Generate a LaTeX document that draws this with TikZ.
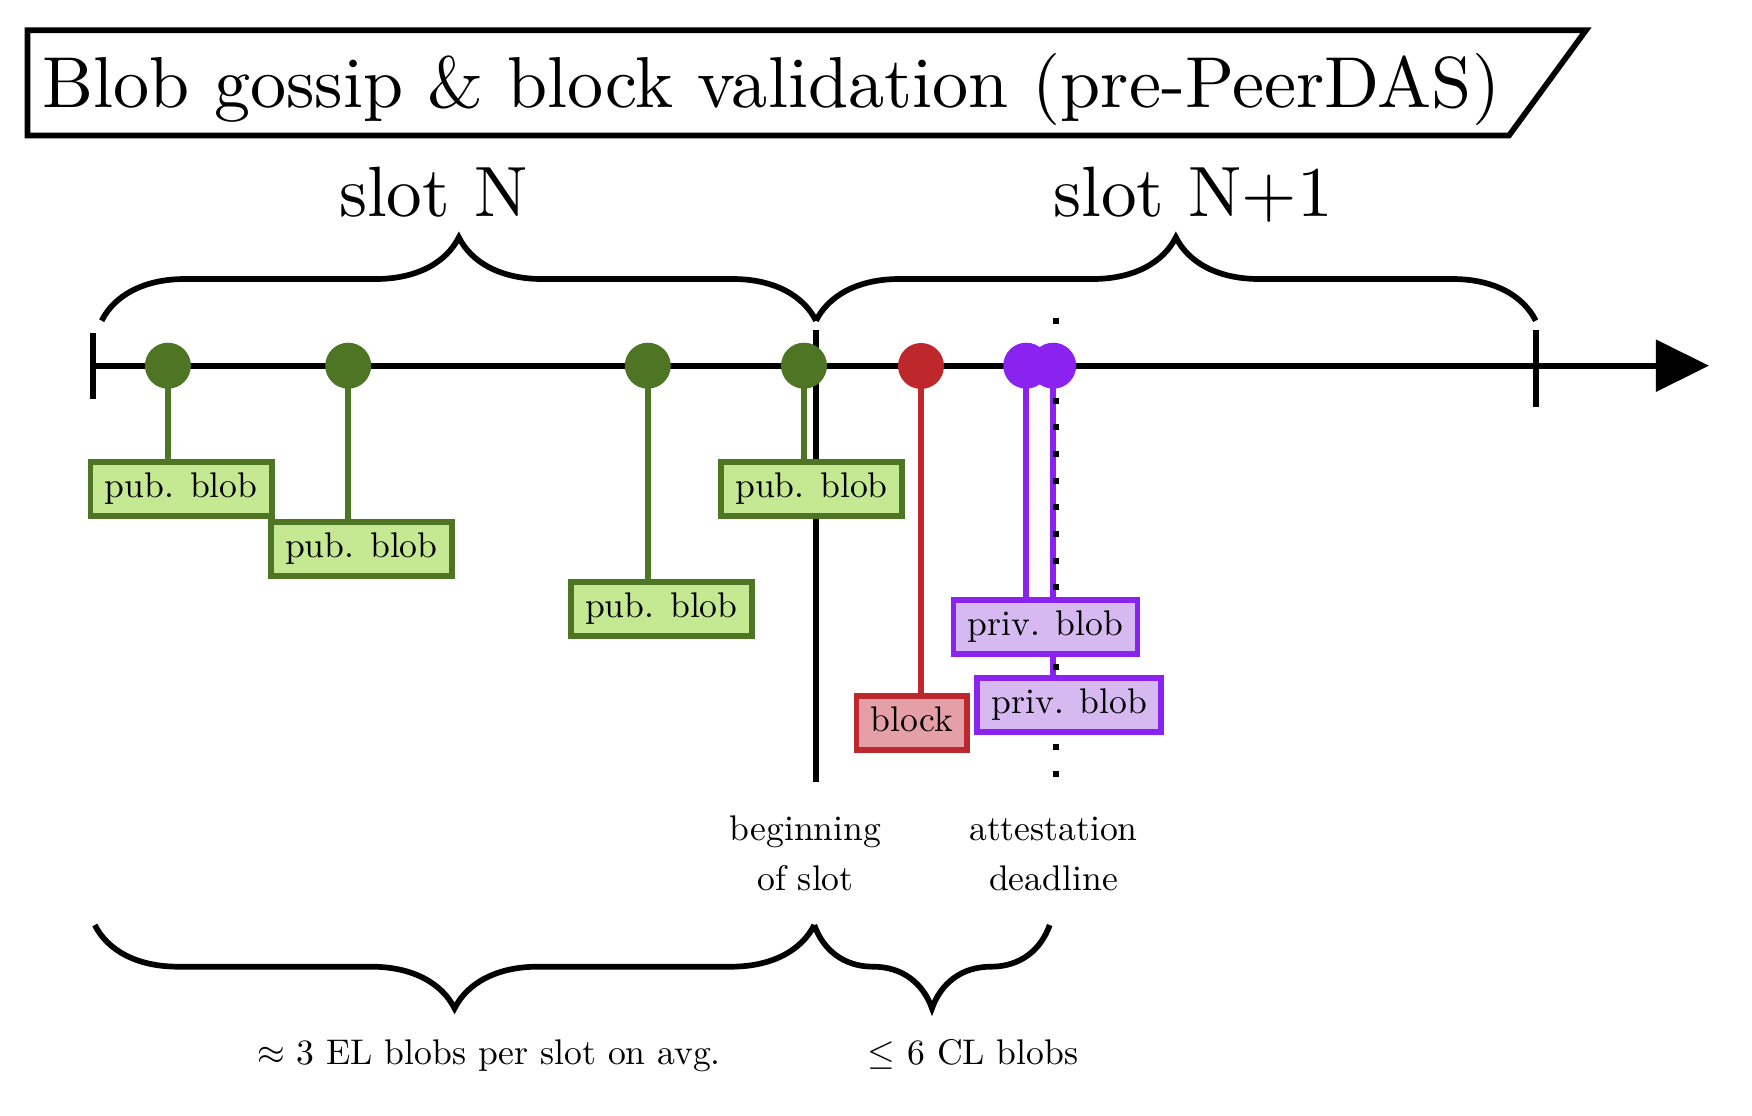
\documentclass[tikz,border=0pt]{standalone}
\usetikzlibrary{arrows.meta,decorations.pathreplacing,backgrounds}
\definecolor{gdark}{HTML}{4E7524}
\definecolor{glight}{HTML}{C5E892}
\definecolor{rdark}{HTML}{BE282D}
\definecolor{rlight}{HTML}{E4A0A6}
\definecolor{pdark}{HTML}{8A22F0}
\definecolor{plight}{HTML}{D6B9F1}
\tikzset{
  ln/.style={line width=1.6pt},
  dotnode/.style={circle, inner sep=0pt, minimum size=12.9pt},
  gdot/.style={dotnode, fill=gdark},
  rdot/.style={dotnode, fill=rdark},
  pdot/.style={dotnode, fill=pdark},
  evbox/.style={draw, line width=1.6pt, inner xsep=4pt, inner ysep=3.1pt,
    text height=6.94pt, text depth=1.94pt, font=\fontsize{10}{12}\selectfont},
  gbox/.style={evbox, draw=gdark, fill=glight},
  rbox/.style={evbox, draw=rdark, fill=rlight},
  pbox/.style={evbox, draw=pdark, fill=plight},
  gstem/.style={ln, draw=gdark},
  rstem/.style={ln, draw=rdark},
  pstem/.style={ln, draw=pdark},
  brc/.style={ln, decorate, decoration={brace, amplitude=23.4pt}},
  bigtxt/.style={font=\fontsize{10}{12}\selectfont, inner sep=0pt},
  smalltxt/.style={font=\fontsize{10}{14}\selectfont, inner sep=0pt, align=center}
}
\begin{document}
\begin{tikzpicture}[x=0.28066pt, y=-0.28066pt]
\useasboundingbox (0,0) rectangle (1752,1116);

% title
\draw[ln, line join=miter] (27.4,30.2) -- (1586,30.2) -- (1509,135.5) -- (27.4,135.5) -- cycle;
\node[bigtxt, anchor=base west] (title) at (42,107.3) {\scalebox{2.025}{Blob gossip \& block validation (pre-PeerDAS)}};

% slot labels
\node[bigtxt, anchor=base] (slotN) at (433.3,216) {\scalebox{2}{slot N}};
\node[bigtxt, anchor=base] (slotN1) at (1193,216) {\scalebox{2}{slot N+1}};

% top braces
\coordinate (tbA) at (101.7,320.7);
\coordinate (tbB) at (816,320.7);
\coordinate (tbC) at (1535.7,320.7);
\draw[brc] (tbA) -- (tbB);
\draw[brc] (tbB) -- (tbC);

% axis
\coordinate (axL) at (92.7,365.7);
\coordinate (axR) at (1709,365.7);
\draw[ln, -{Triangle[length=14.9pt,width=14.3pt]}] (axL) -- (axR);
\coordinate (tL1) at (92.7,333); \coordinate (tL2) at (92.7,399);
\coordinate (tR1) at (1535.7,330); \coordinate (tR2) at (1535.7,407);
\draw[ln] (tL1) -- (tL2);
\draw[ln] (tR1) -- (tR2);

% beginning of slot line and attestation deadline dotted line
\coordinate (bs1) at (816.2,330); \coordinate (bs2) at (816.2,782);
\draw[ln] (bs1) -- (bs2);
\coordinate (ad1) at (1056,317.7); \coordinate (ad2) at (1056,780);
\draw[ln, dash pattern=on 1.68pt off 5.8pt] (ad1) -- (ad2);

% dots
\node[gdot] (g1) at (167.9,365.7) {};
\node[gdot] (g2) at (348.2,365.7) {};
\node[gdot] (g3) at (647.8,365.7) {};
\node[gdot] (g4) at (804,365.7) {};
\node[rdot] (r1) at (921,366) {};
\node[pdot] (p1) at (1026.2,365.7) {};
\node[pdot] (p2) at (1053.2,365.7) {};

% boxes
\node[gbox] (b1) at (181.15,489) {pub. blob};
\node[gbox] (b2) at (361.35,549) {pub. blob};
\node[gbox] (b3) at (661.3,609) {pub. blob};
\node[gbox] (b4) at (811.45,489) {pub. blob};
\node[rbox] (blk) at (911.85,723) {block};
\node[pbox] (pv1) at (1045.45,626.85) {priv. blob};
\node[pbox] (pv2) at (1069.3,705) {priv. blob};

% stems
\begin{scope}[on background layer]
\draw[gstem] (g1.center) -- (g1.center |- b1.north);
\draw[gstem] (g2.center) -- (g2.center |- b2.north);
\draw[gstem] (g3.center) -- (g3.center |- b3.north);
\draw[gstem] (g4.center) -- (g4.center |- b4.north);
\draw[rstem] (r1.center) -- (r1.center |- blk.north);
\draw[pstem] (p1.center) -- (p1.center |- pv1.north);
\draw[pstem] (p2.center) -- (p2.center |- pv2.north);
\end{scope}

% bottom labels
\node[smalltxt, anchor=base] (lbos) at (805.5,890) {beginning\\of slot};
\node[smalltxt, anchor=base] (lad) at (1053.5,890) {attestation\\deadline};

% bottom braces
\coordinate (bbA) at (94.8,925);
\coordinate (bbB) at (814.3,925);
\coordinate (bbC) at (1049.7,925);
\draw[brc, decoration={mirror}] (bbA) -- (bbB);
\draw[brc, decoration={mirror}] (bbB) -- (bbC);

\node[smalltxt, anchor=base] (lel) at (489,1064) {$\approx$ 3 EL blobs per slot on avg.};
\node[smalltxt, anchor=base] (lcl) at (973,1064) {$\leq$ 6 CL blobs};
\end{tikzpicture}
\end{document}
